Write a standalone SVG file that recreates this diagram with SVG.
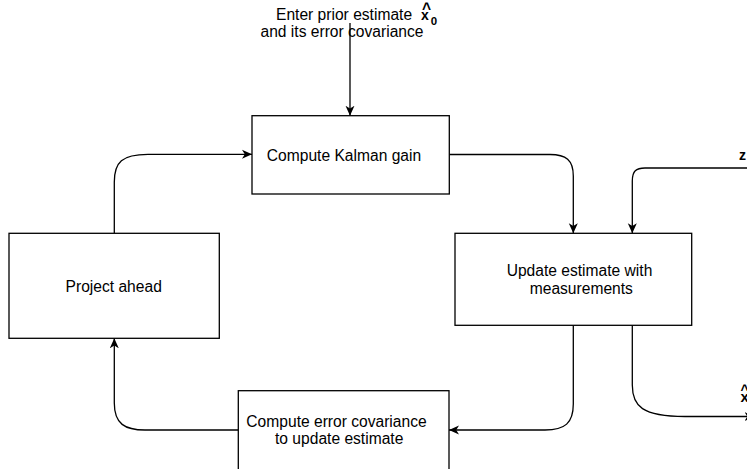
<svg xmlns="http://www.w3.org/2000/svg" width="747" height="469" viewBox="0 0 747 469">
  <style>
    .box { fill: #ffffff; stroke: #000000; stroke-width: 1.3; }
    .edge { fill: none; stroke: #000000; stroke-width: 1.3; }
    .lbl { font-family: "Liberation Sans", Arial, Helvetica, sans-serif; font-size: 15.6px; fill: #000000; }
    .mid { text-anchor: middle; }
    .math { font-family: "Liberation Sans", Arial, Helvetica, sans-serif; font-weight: bold; fill: #000000; }
  </style>
  <defs>
    <marker id="arrow" markerUnits="userSpaceOnUse" markerWidth="10" markerHeight="10" viewBox="0 0 10 10" refX="10" refY="5" orient="auto">
      <path d="M0,0.5 L10,5 L0,9.5 L2.8,5 Z" fill="#000000"/>
    </marker>
  </defs>

  <rect width="747" height="469" fill="#ffffff"/>

  <!-- connectors -->
  <g id="connectors">
    <path class="edge" d="M350,23 V115.7" marker-end="url(#arrow)"/>
    <path class="edge" d="M114.3,233.3 V182 C114.3,162 122,154.3 148,154.3 H252" marker-end="url(#arrow)"/>
    <path class="edge" d="M449.3,154.5 H550 C566,154.5 573.3,160 573.3,176 V233.3" marker-end="url(#arrow)"/>
    <path class="edge" d="M747,168 H645 C636,168 632.3,171 632.3,181 V233.3" marker-end="url(#arrow)"/>
    <path class="edge" d="M632.3,325.3 V385 C632.3,406 642,416.5 685,416.5 H754.5" marker-end="url(#arrow)"/>
    <path class="edge" d="M573.3,325.3 V404 C573.3,423 565,430 545,430 H449" marker-end="url(#arrow)"/>
    <path class="edge" d="M238.3,430 H145 C125,430 114.3,424 114.3,403 V338.3" marker-end="url(#arrow)"/>
  </g>

  <!-- input label: prior estimate and covariance -->
  <g id="prior-input">
    <text class="lbl" x="276" y="20">Enter prior estimate</text>
    <text class="lbl" x="260.5" y="37">and its error covariance</text>
    <text class="math" x="421" y="20" font-size="14">x<tspan dx="-6.8" dy="-6" font-size="15.6">^</tspan><tspan dx="-0.4" dy="11" font-size="11.5">0</tspan></text>
  </g>

  <!-- measurement input -->
  <g id="measurement-input">
    <text class="math" x="739" y="159.5" font-size="14">z</text>
  </g>

  <!-- output estimate -->
  <g id="estimate-output">
    <text class="math" x="740.5" y="402" font-size="15">x<tspan dx="-8.3" dy="-7" font-size="14">^</tspan></text>
  </g>

  <g id="kalman-gain">
    <rect class="box" x="252" y="115.7" width="197.3" height="78.3"/>
    <text class="lbl mid" x="344" y="161">Compute Kalman gain</text>
  </g>

  <g id="update-estimate">
    <rect class="box" x="455" y="233.3" width="236.7" height="92"/>
    <text class="lbl mid" x="579.5" y="276">Update estimate with</text>
    <text class="lbl mid" x="581.3" y="294">measurements</text>
  </g>

  <g id="error-covariance">
    <rect class="box" x="238.3" y="390.7" width="210.7" height="90"/>
    <text class="lbl mid" x="336.5" y="427">Compute error covariance</text>
    <text class="lbl mid" x="339.2" y="444">to update estimate</text>
  </g>

  <g id="project-ahead">
    <rect class="box" x="9" y="233.3" width="210.3" height="105"/>
    <text class="lbl mid" x="113.7" y="292">Project ahead</text>
  </g>
</svg>
